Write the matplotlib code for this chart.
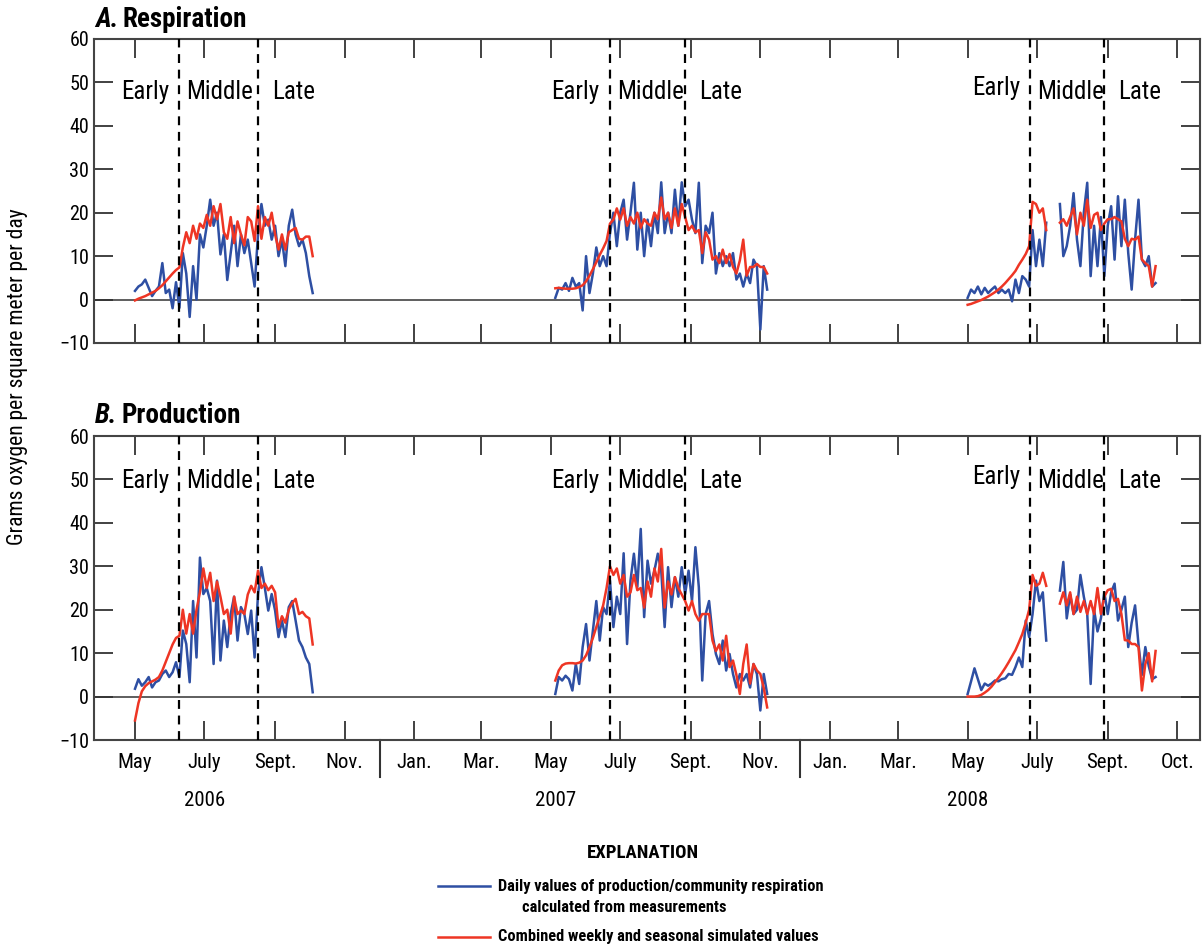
import numpy as np
import matplotlib
matplotlib.use("Agg")
import matplotlib.pyplot as plt
from matplotlib.lines import Line2D
import matplotlib.transforms as mtransforms
from matplotlib import font_manager

# pick a narrow sans face if one is installed
_fonts = font_manager.fontManager.ttflist
_names = {f.name for f in _fonts}
FAMILY = None
STRETCH = 'normal'
for cand in ['Liberation Sans Narrow', 'Roboto Condensed', 'Open Sans Condensed']:
    if cand in _names:
        FAMILY = cand
        break
if FAMILY is None:
    cond = [f for f in _fonts if f.stretch in ('condensed', 'semi-condensed')]
    if cond:
        FAMILY = cond[0].name
        STRETCH = 'condensed'
    else:
        FAMILY = 'Roboto' if 'Roboto' in _names else 'Liberation Sans'
plt.rcParams['font.family'] = [FAMILY, 'DejaVu Sans']
plt.rcParams['font.stretch'] = STRETCH

BLUE = '#2e4fa3'
RED = '#ee3524'
STEP = 3  # days between read-off points

# season start dates
start_2006 = '2006-05-01'
start_2007 = '2007-05-05'
start_2008 = '2008-05-01'

# ---- A. Respiration ----
resp_obs_2006 = [2.0, 3.0, 3.5, 4.6, 2.7, 0.8, 2.0, 3.0, 8.4, 1.5, 2.3, -2.0, 4.0, -1.9,
                 10.7, 6.0, -4.0, 7.7, 0.0, 15.0, 12.0, 17.0, 23.0, 17.0, 20.0, 10.4, 15.0,
                 4.5, 10.7, 17.0, 7.7, 15.0, 10.7, 13.8, 8.4, 3.0, 15.0, 22.0, 17.0, 18.4,
                 13.8, 17.0, 10.0, 13.8, 7.7, 17.0, 20.7, 15.0, 12.3, 13.8, 10.7, 5.4, 1.5]
resp_sim_2006 = [-0.2, 0.2, 0.5, 0.8, 1.2, 1.6, 2.0, 2.6, 3.3, 4.2, 5.1, 6.0, 6.8, 7.4,
                 12.0, 15.5, 13.0, 17.0, 14.0, 17.5, 16.5, 19.5, 17.0, 21.5, 18.5, 22.0, 15.5,
                 14.0, 19.0, 13.0, 18.0, 15.0, 12.5, 19.0, 18.0, 13.5, 21.5, 14.0, 19.0, 17.0,
                 20.0, 15.0, 11.5, 15.0, 11.5, 15.5, 16.0, 16.5, 14.0, 13.8, 14.5, 14.5, 10.0]

resp_obs_2007 = [0.4, 2.7, 2.3, 3.8, 2.0, 5.0, 3.0, 3.8, -2.5, 10.0, 1.5, 6.0, 12.0, 7.7,
                 10.0, 7.7, 15.3, 20.0, 12.3, 20.0, 23.0, 13.8, 20.0, 26.9, 11.5, 20.0, 10.0,
                 18.4, 12.3, 20.0, 15.3, 27.0, 15.3, 20.0, 15.3, 25.3, 17.0, 27.0, 21.5, 23.0,
                 18.4, 15.3, 26.9, 8.4, 17.0, 15.3, 20.0, 6.0, 10.7, 7.7, 10.0, 7.7, 10.7,
                 4.6, 6.0, 3.0, 6.0, 3.8, 9.2, 7.7, -6.9, 7.7, 2.3]
resp_sim_2007 = [2.6, 2.7, 2.6, 2.5, 2.5, 2.5, 2.6, 2.9, 3.3, 4.2, 5.5, 7.0, 8.6, 10.3,
                 11.8, 13.5, 17.5, 18.4, 21.0, 18.4, 21.0, 17.0, 19.0, 17.5, 20.0, 16.5, 18.5,
                 17.5, 17.0, 20.0, 18.5, 23.5, 18.5, 20.0, 16.5, 21.0, 17.0, 22.0, 19.0, 16.0,
                 17.0, 15.5, 16.0, 10.7, 15.5, 13.8, 9.2, 10.0, 8.4, 11.5, 8.4, 10.5, 7.5,
                 6.0, 9.0, 13.8, 5.5, 7.5, 7.5, 8.2, 7.5, 7.5, 6.0]

nan = np.nan
resp_obs_2008 = [0.4, 2.3, 1.5, 3.0, 1.2, 2.7, 1.5, 2.3, 3.0, 1.5, 2.3, 1.5, 2.3, -0.4,
                 4.6, 1.5, 5.4, 4.6, 3.0, 16.0, 7.7, 13.8, 7.7, 17.7, nan, nan, nan,
                 22.0, 10.0, 12.3, 17.0, 24.5, 13.8, 7.7, 20.0, 26.9, 5.4, 17.0, 7.7, 19.0,
                 5.4, 17.0, 21.5, 9.2, 23.8, 12.3, 23.0, 10.7, 2.3, 13.8, 23.0, 9.2, 7.7,
                 10.0, 3.0, 3.8]
resp_sim_2008 = [-1.2, -1.0, -0.7, -0.4, -0.1, 0.3, 0.7, 1.2, 1.7, 2.3, 3.0, 3.8, 4.7, 5.6,
                 6.6, 8.0, 9.2, 10.5, 12.3, 22.5, 22.0, 20.0, 21.0, 16.0, nan, nan, nan,
                 17.7, 18.5, 17.0, 19.0, 21.0, 15.0, 20.0, 17.0, 23.0, 16.5, 19.5, 20.0, 16.0,
                 17.5, 18.5, 18.5, 19.0, 18.5, 18.0, 14.0, 12.3, 14.0, 13.8, 14.5, 9.2, 8.4,
                 7.7, 3.0, 7.7]

# ---- B. Production ----
prod_obs_2006 = [1.8, 4.0, 2.5, 3.3, 4.5, 2.1, 3.3, 3.7, 5.2, 6.0, 4.5, 5.6, 7.9, 4.5,
                 15.2, 12.1, 3.3, 22.0, 9.0, 32.0, 23.6, 25.0, 22.0, 7.5, 26.7, 8.3, 17.5,
                 11.4, 19.0, 23.0, 12.9, 20.6, 19.0, 14.4, 19.8, 9.0, 23.6, 29.8, 25.0, 19.8,
                 23.6, 19.8, 13.7, 17.5, 13.7, 20.6, 22.0, 17.5, 12.9, 11.4, 9.0, 7.5, 1.0]
prod_sim_2006 = [-5.5, -1.5, 1.2, 2.4, 3.1, 3.5, 3.9, 4.5, 6.0, 8.0, 10.0, 12.0, 13.5, 14.0,
                 20.0, 14.5, 19.0, 14.5, 20.0, 24.0, 29.5, 25.0, 28.5, 22.0, 26.5, 23.0, 19.0,
                 20.0, 14.5, 23.0, 19.0, 19.8, 19.0, 23.5, 25.5, 24.0, 29.0, 25.0, 26.0, 24.5,
                 25.5, 24.0, 16.0, 18.5, 17.0, 20.0, 21.5, 22.5, 19.0, 19.5, 18.5, 18.0, 12.0]

prod_obs_2007 = [0.6, 4.5, 3.7, 4.8, 4.0, 1.4, 7.5, 2.9, 11.4, 16.7, 8.3, 15.2, 22.0, 12.9,
                 20.6, 19.0, 26.7, 16.0, 23.0, 19.0, 33.0, 12.1, 26.7, 32.9, 25.2, 38.6, 18.3,
                 31.3, 26.0, 29.0, 32.9, 29.0, 16.0, 29.8, 20.6, 27.5, 23.0, 29.8, 23.6, 29.0,
                 22.0, 34.4, 25.2, 3.7, 19.0, 22.0, 14.4, 9.8, 7.5, 12.9, 6.0, 9.8, 5.2,
                 2.1, 5.2, 3.7, 5.2, 2.1, 7.5, 5.2, -3.2, 5.2, 0.6]
prod_sim_2007 = [3.7, 6.0, 7.2, 7.6, 7.7, 7.7, 7.6, 7.8, 8.3, 9.5, 11.4, 13.5, 16.0, 18.5,
                 21.0, 25.0, 30.0, 28.0, 29.5, 26.0, 28.0, 23.0, 24.0, 28.0, 24.5, 25.0, 20.5,
                 26.5, 23.0, 29.5, 26.5, 34.0, 20.5, 26.5, 23.5, 27.5, 25.0, 23.5, 22.0, 19.8,
                 22.0, 19.0, 17.5, 19.0, 19.0, 19.0, 12.9, 10.5, 12.0, 8.3, 14.0, 6.8, 8.3,
                 5.0, 0.6, 7.5, 12.0, 3.0, 7.5, 6.0, 5.2, 2.0, -2.5]

prod_obs_2008 = [0.6, 3.5, 6.5, 4.0, 1.5, 3.0, 2.5, 3.0, 3.7, 3.5, 4.0, 4.2, 5.2, 5.0,
                 6.8, 9.0, 6.8, 17.5, 13.7, 19.0, 26.7, 22.0, 24.0, 12.9, nan, nan, nan,
                 24.4, 31.0, 18.0, 23.5, 19.0, 20.0, 28.0, 23.0, 19.0, 2.9, 20.0, 15.0, 18.0,
                 24.0, 19.0, 24.0, 26.0, 17.5, 20.0, 23.0, 11.4, 17.0, 21.0, 12.0, 5.0, 11.4,
                 7.0, 4.0, 4.5]
prod_sim_2008 = [0.0, 0.0, 0.0, 0.1, 0.4, 0.9, 1.5, 2.3, 3.3, 4.3, 5.4, 6.6, 7.9, 9.3,
                 10.7, 12.5, 14.4, 17.0, 20.0, 28.0, 25.5, 26.0, 28.5, 25.5, nan, nan, nan,
                 21.4, 24.0, 21.0, 24.0, 19.0, 23.0, 19.5, 22.0, 19.0, 22.0, 19.0, 25.0, 19.0,
                 23.0, 24.5, 24.8, 22.0, 22.5, 19.0, 13.0, 12.9, 12.1, 12.1, 11.4, 1.4, 7.5,
                 10.0, 3.5, 10.5]

# season boundaries (early/middle, middle/late)
bounds = ['2006-06-09', '2006-08-17', '2007-06-22', '2007-08-27', '2008-06-25', '2008-08-29']

tick_dates = ['2006-05-01', '2006-07-01', '2006-09-01', '2006-11-01', '2007-01-01', '2007-03-01',
              '2007-05-01', '2007-07-01', '2007-09-01', '2007-11-01', '2008-01-01', '2008-03-01',
              '2008-05-01', '2008-07-01', '2008-09-01', '2008-11-01']
tick_labels = ['May', 'July', 'Sept.', 'Nov.', 'Jan.', 'Mar.', 'May', 'July', 'Sept.', 'Nov.',
               'Jan.', 'Mar.', 'May', 'July', 'Sept.', 'Oct.']
years = ['2006', '2007', '2008']
year_pos = ['2006-07-01', '2007-05-05', '2008-05-01']
year_breaks = ['2006-12-02', '2007-12-06']


def dates(start, vals):
    return np.datetime64(start) + np.arange(len(vals)) * np.timedelta64(STEP, 'D')


D = np.datetime64
days = lambda n: np.timedelta64(n, 'D')
fig = plt.figure(figsize=(12.02, 9.49), dpi=100)
W = 1202.0
H = 949.0
axA = fig.add_axes([94 / W, 1 - 343 / H, 1106 / W, 304 / H])
axB = fig.add_axes([94 / W, 1 - 740 / H, 1106 / W, 304 / H])

panels = [
    (axA, [(start_2006, resp_obs_2006, resp_sim_2006),
           (start_2007, resp_obs_2007, resp_sim_2007),
           (start_2008, resp_obs_2008, resp_sim_2008)], 47.8),
    (axB, [(start_2006, prod_obs_2006, prod_sim_2006),
           (start_2007, prod_obs_2007, prod_sim_2007),
           (start_2008, prod_obs_2008, prod_sim_2008)], 49.6),
]

for ax, seasons, ylab in panels:
    ax.axhline(0, color='#333333', lw=1.1, zorder=1)
    for start, obs, sim in seasons:
        ax.plot(dates(start, obs), obs, color=BLUE, lw=1.8, zorder=3)
        ax.plot(dates(start, sim), sim, color=RED, lw=1.8, zorder=4)
    for b in bounds:
        ax.axvline(D(b), color='black', lw=1.6, ls=(0, (4, 3)), zorder=5)
    # season labels
    for i in range(3):
        e, m = D(bounds[2 * i]), D(bounds[2 * i + 1])
        ye = ylab + 1.0 if i == 2 else ylab
        ax.text(e - days(9), ye, 'Early', ha='right', va='center', fontsize=18)
        ax.text(e + days(6), ylab, 'Middle', ha='left', va='center', fontsize=18)
        ax.text(m + days(12), ylab, 'Late', ha='left', va='center', fontsize=18)

    ax.set_xlim(D('2006-03-26'), D('2008-11-21'))
    ax.set_ylim(-10, 60)
    ax.set_yticks(range(-10, 61, 10))
    ax.set_yticklabels(['\u221210'] + [str(v) for v in range(0, 61, 10)])
    ax.set_xticks([D(t) for t in tick_dates])
    ax.tick_params(axis='both', direction='in', length=14, width=1.3, color='#333333',
                   top=True, right=True, labelsize=14.5)
    for s in ax.spines.values():
        s.set_color('#444444')
        s.set_linewidth(1.5)

axA.set_xticklabels([])
axB.set_xticklabels(tick_labels)
axB.tick_params(axis='x', pad=9, labelsize=15)

# year separators below bottom axis
trans = mtransforms.blended_transform_factory(axB.transData, axB.transAxes)
for yb in year_breaks:
    axB.add_line(Line2D([D(yb), D(yb)], [0, -0.123], transform=trans, color='#333333',
                        lw=1.5, clip_on=False))
for yr, pos in zip(years, year_pos):
    axB.text(D(pos), -0.2, yr, transform=trans, ha='center', va='center', fontsize=15)

# panel titles
renderer = fig.canvas.get_renderer()
for letter, name, ypix in [('A.', 'Respiration', 27), ('B.', 'Production', 423)]:
    t = fig.text(95 / W, 1 - ypix / H, letter, fontsize=19.5, fontweight='bold',
                 fontstyle='italic', va='baseline')
    bb = t.get_window_extent(renderer)
    fig.text(bb.x1 / W + 4 / W, 1 - ypix / H, name, fontsize=19.5, fontweight='bold',
             va='baseline')

fig.text(18 / W, 1 - 377 / H, 'Grams oxygen per square meter per day', rotation=90,
         ha='center', va='center', fontsize=15.5)

# explanation
fig.text(643 / W, 1 - 853 / H, 'EXPLANATION', ha='center', va='center', fontsize=13.5,
         fontweight='bold')
fig.add_artist(Line2D([438 / W, 490 / W], [1 - 886 / H, 1 - 886 / H], color=BLUE, lw=1.8))
fig.add_artist(Line2D([438 / W, 490 / W], [1 - 937 / H, 1 - 937 / H], color=RED, lw=1.8))
fig.text(498 / W, 1 - 886 / H, 'Daily values of production/community respiration',
         va='center', fontsize=11.8, fontweight='bold')
fig.text(522 / W, 1 - 908 / H, 'calculated from measurements', va='center', fontsize=11.8,
         fontweight='bold')
fig.text(498 / W, 1 - 937 / H, 'Combined weekly and seasonal simulated values', va='center',
         fontsize=11.8, fontweight='bold')

fig.savefig('out.png', dpi=100)
